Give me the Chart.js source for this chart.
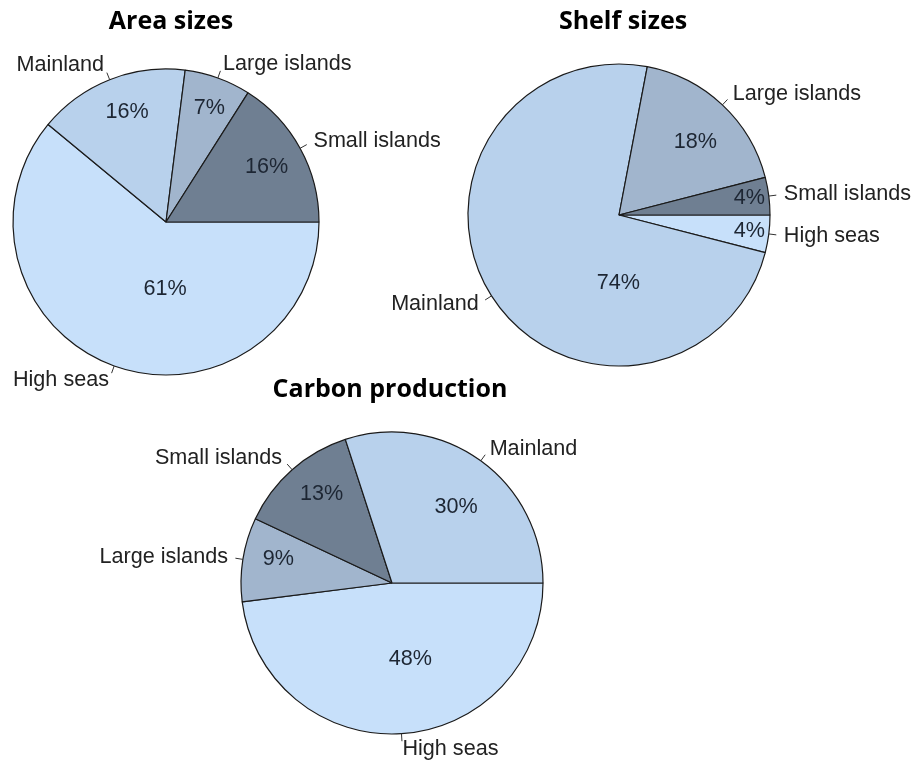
<!DOCTYPE html>
<html>
<head>
<meta charset="utf-8">
<script src="https://cdn.jsdelivr.net/npm/chart.js@4"></script>
<style>
    html, body { margin: 0; padding: 0; background: #fff; }
    body { width: 912px; height: 760px; position: relative; overflow: hidden; }
    .pie-box { position: absolute; }
</style>
</head>
<body>
<div class="pie-box" style="left:0;top:0;width:456px;height:400px"><canvas id="areaChart" width="456" height="400"></canvas></div>
<div class="pie-box" style="left:380px;top:0;width:532px;height:400px"><canvas id="shelfChart" width="532" height="400"></canvas></div>
<div class="pie-box" style="left:0;top:360px;width:912px;height:400px"><canvas id="carbonChart" width="912" height="400"></canvas></div>

<script>
// Data, listed clockwise starting at 3 o'clock
const chartTitles = ['Area sizes', 'Shelf sizes', 'Carbon production'];

const areaLabels = ['High seas', 'Mainland', 'Large islands', 'Small islands'];
const areaValues = [61, 16, 7, 16];

const shelfLabels = ['High seas', 'Mainland', 'Large islands', 'Small islands'];
const shelfValues = [4, 74, 18, 4];

const carbonLabels = ['High seas', 'Large islands', 'Small islands', 'Mainland'];
const carbonValues = [48, 9, 13, 30];

const sliceColours = {
    'High seas': '#c7e0fa',
    'Mainland': '#b8d1ec',
    'Large islands': '#a1b5cd',
    'Small islands': '#6f7f92'
};

const LABEL_FONT = '21.6px "Liberation Sans", Arial, sans-serif';
const TITLE_FONT = 'bold 25px "Open Sans", Lato, sans-serif';

/**
 * Draws title, percent labels inside slices and R-style outer labels with ticks
 */
const pieLabelsPlugin = {
    id: 'pieLabels',
    afterDraw(chart, args, opts) {
        const ctx = chart.ctx;
        const meta = chart.getDatasetMeta(0);
        const values = chart.data.datasets[0].data;
        const labels = chart.data.labels;

        ctx.save();

        // title
        const area = chart.chartArea;
        ctx.font = TITLE_FONT;
        ctx.fillStyle = '#000';
        ctx.textAlign = 'center';
        ctx.textBaseline = 'middle';
        ctx.fillText(opts.title, (area.left + area.right) / 2 + opts.titleDx, opts.titleY);

        meta.data.forEach((arc, i) => {
            const p = arc.getProps(['x', 'y', 'startAngle', 'endAngle', 'outerRadius'], true);
            const mid = (p.startAngle + p.endAngle) / 2;
            const r = p.outerRadius;
            const cos = Math.cos(mid);
            const sin = Math.sin(mid);

            // tick from edge to 1.05r
            ctx.strokeStyle = '#333';
            ctx.lineWidth = 1;
            ctx.beginPath();
            ctx.moveTo(p.x + cos * r, p.y + sin * r);
            ctx.lineTo(p.x + cos * r * 1.05, p.y + sin * r * 1.05);
            ctx.stroke();

            // outer label at 1.1r
            ctx.font = LABEL_FONT;
            ctx.fillStyle = '#222';
            ctx.textAlign = cos >= 0 ? 'left' : 'right';
            ctx.textBaseline = 'middle';
            ctx.fillText(labels[i], p.x + cos * r * 1.1, p.y + sin * r * 1.1);

            // percent label inside the slice
            const nudge = opts.pctNudge[i];
            const a = mid + nudge[0] * Math.PI / 180;
            ctx.fillStyle = '#1d2633';
            ctx.textAlign = 'center';
            ctx.fillText(values[i] + '%', p.x + Math.cos(a) * r * nudge[1], p.y + Math.sin(a) * r * nudge[1]);
        });

        ctx.restore();
    }
};

function makePie(canvasId, labels, values, radius, padding, labelOpts) {
    const ctx = document.getElementById(canvasId);
    return new Chart(ctx, {
        type: 'pie',
        data: {
            labels: labels,
            datasets: [{
                data: values,
                backgroundColor: labels.map(l => sliceColours[l]),
                borderColor: '#1a1a1a',
                borderWidth: 1.2
            }]
        },
        options: {
            responsive: false,
            animation: false,
            devicePixelRatio: 1,
            rotation: 90,
            radius: radius,
            layout: { padding: padding },
            events: [],
            plugins: {
                legend: { display: false },
                tooltip: { enabled: false },
                pieLabels: labelOpts
            }
        },
        plugins: [pieLabelsPlugin]
    });
}

// [angle shift in degrees, distance as fraction of radius] for each percent label
makePie('areaChart', areaLabels, areaValues, 153,
    { left: 13, top: 69, right: 137, bottom: 25 },
    { title: chartTitles[0], titleDx: 5, titleY: 22,
      pctNudge: [[-19, 0.44], [2, 0.76], [1, 0.80], [0, 0.75]] });

makePie('shelfChart', shelfLabels, shelfValues, 151,
    { left: 88, top: 64, right: 142, bottom: 34 },
    { title: chartTitles[1], titleDx: 4, titleY: 22,
      pctNudge: [[0, 0.87], [-57, 0.45], [3, 0.70], [0, 0.87]] });

makePie('carbonChart', carbonLabels, carbonValues, 151,
    { left: 241, top: 72, right: 369, bottom: 26 },
    { title: chartTitles[2], titleDx: -2, titleY: 30,
      pctNudge: [[-10, 0.52], [3, 0.77], [3, 0.75], [4, 0.66]] });
</script>
</body>
</html>
